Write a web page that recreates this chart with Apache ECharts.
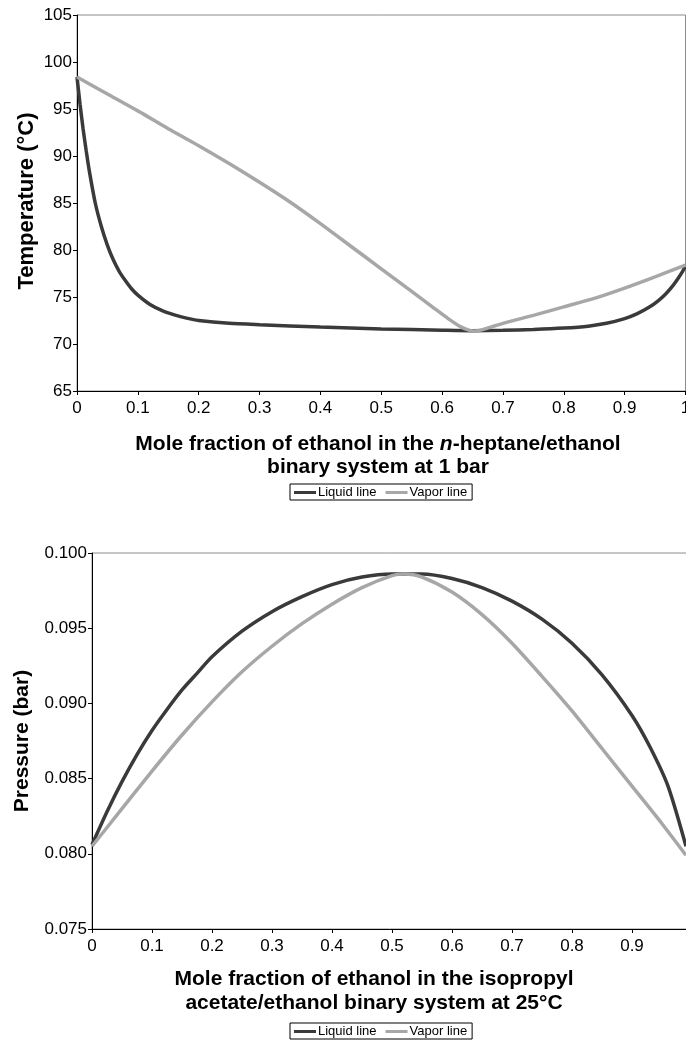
<!DOCTYPE html>
<html>
<head>
<meta charset="utf-8">
<title>Ethanol binary systems – phase diagrams</title>
<script src="https://cdn.jsdelivr.net/npm/echarts@6/dist/echarts.min.js"></script>
<style>
  html, body { margin: 0; padding: 0; background: #fff; overflow: hidden; }
  #chart { width: 686px; height: 1042px; }
</style>
</head>
<body>
<div id="chart"></div>
<script>
// n-heptane/ethanol at 1 bar: [mole fraction ethanol, temperature °C]
const heptaneLiquid = [
  [0, 98.4], [0.005, 95.5], [0.01, 92.9], [0.015, 90.6], [0.02, 88.5], [0.03, 85.0],
  [0.04, 82.5], [0.05, 80.5], [0.06, 78.9], [0.07, 77.65], [0.08, 76.7], [0.09, 75.85],
  [0.1, 75.2], [0.12, 74.2], [0.14, 73.55], [0.16, 73.1], [0.18, 72.75], [0.2, 72.5],
  [0.25, 72.2], [0.3, 72.05], [0.4, 71.8], [0.5, 71.6], [0.6, 71.47], [0.65, 71.42],
  [0.7, 71.45], [0.75, 71.55], [0.8, 71.7], [0.84, 71.9], [0.87, 72.2], [0.9, 72.7],
  [0.92, 73.2], [0.94, 73.9], [0.955, 74.6], [0.967, 75.3], [0.978, 76.1], [0.988, 77.0],
  [0.995, 77.7], [1, 78.3]
];
const heptaneVapor = [
  [0, 98.4], [0.05, 96.6], [0.1, 94.8], [0.15, 92.9], [0.2, 91.1], [0.25, 89.2],
  [0.3, 87.2], [0.35, 85.1], [0.4, 82.8], [0.45, 80.4], [0.5, 78.0], [0.55, 75.6],
  [0.585, 73.9], [0.61, 72.7], [0.63, 71.85], [0.645, 71.45], [0.655, 71.38],
  [0.665, 71.5], [0.68, 71.8], [0.7, 72.2], [0.75, 73.05], [0.8, 73.95], [0.85, 74.85],
  [0.9, 75.95], [0.95, 77.15], [1, 78.4]
];

// isopropyl acetate/ethanol at 25 °C: [mole fraction ethanol, pressure bar]
const acetateLiquid = [
  [0, 0.0806], [0.025, 0.0828], [0.05, 0.0848], [0.075, 0.0866], [0.1, 0.0882],
  [0.125, 0.0896], [0.15, 0.0909], [0.175, 0.0920], [0.2, 0.0931], [0.25, 0.0948],
  [0.3, 0.0961], [0.35, 0.0971], [0.4, 0.0979], [0.45, 0.0984], [0.5, 0.0986],
  [0.55, 0.0986], [0.6, 0.0983], [0.65, 0.0977], [0.7, 0.0968], [0.75, 0.0956],
  [0.8, 0.0940], [0.85, 0.0919], [0.9, 0.0892], [0.93, 0.0871], [0.96, 0.0845],
  [0.99, 0.0805]
];
const acetateVapor = [
  [0, 0.0805], [0.05, 0.0830], [0.1, 0.0855], [0.15, 0.0879], [0.2, 0.0901],
  [0.25, 0.0921], [0.3, 0.0938], [0.35, 0.0953], [0.4, 0.0966], [0.45, 0.0977],
  [0.5, 0.0985], [0.52, 0.0986], [0.55, 0.0984], [0.6, 0.0974], [0.65, 0.0959],
  [0.7, 0.0940], [0.75, 0.0918], [0.8, 0.0895], [0.85, 0.0870], [0.9, 0.0845],
  [0.95, 0.0820], [0.99, 0.0799]
];

// axis ranges and tick steps
const fractionTicks = { min: 0, max: 1, interval: 0.1 };
const temperatureTicks = { min: 65, max: 105, interval: 5 };
const pressureTicks = { min: 0.075, max: 0.100, interval: 0.005 };

const seriesNames = ['Liquid line', 'Vapor line'];
const titles = {
  temperature: 'Temperature (°C)',
  pressure: 'Pressure (bar)',
  heptaneX: ['Mole fraction of ethanol in the {i|n}-heptane/ethanol', 'binary system at 1 bar'],
  acetateX: ['Mole fraction of ethanol in the isopropyl', 'acetate/ethanol binary system at 25°C']
};

const FONT = "'Liberation Sans', Arial, Helvetica, sans-serif";
const TITLE_SIZE = 21;
const DARK = '#3a3a3a';
const LIGHT = '#a7a7a7';

const chart = echarts.init(document.getElementById('chart'), null, { renderer: 'canvas' });

function xAxisFor(gridIndex) {
  return {
    type: 'value', gridIndex,
    min: fractionTicks.min, max: fractionTicks.max, interval: fractionTicks.interval,
    axisLine: { show: true, onZero: false, lineStyle: { color: '#000', width: 1 } },
    axisTick: { show: true, length: 4, lineStyle: { color: '#000' } },
    splitLine: { show: false },
    axisLabel: {
      color: '#000', fontSize: 17, fontFamily: FONT, margin: 9,
      formatter: v => String(Math.round(v * 10) / 10)
    }
  };
}

function yAxisFor(gridIndex, ticks, digits) {
  return {
    type: 'value', gridIndex,
    min: ticks.min, max: ticks.max, interval: ticks.interval,
    axisLine: { show: true, onZero: false, lineStyle: { color: '#000', width: 1 } },
    axisTick: { show: true, length: 4, lineStyle: { color: '#000' } },
    splitLine: { show: false },
    axisLabel: {
      color: '#000', fontSize: 17, fontFamily: FONT, margin: 5,
      formatter: v => v.toFixed(digits)
    }
  };
}

function lineSeries(name, data, color, axisIndex) {
  return {
    name, type: 'line', data,
    xAxisIndex: axisIndex, yAxisIndex: axisIndex,
    showSymbol: false, smooth: 0.25,
    lineStyle: { color, width: 3.5 },
    itemStyle: { color },
    emphasis: { disabled: true },
    animation: false
  };
}

function legendAt(top, left) {
  return {
    top, left,
    data: seriesNames,
    icon: 'rect', itemWidth: 22, itemHeight: 3, itemGap: 9,
    padding: [2, 5, 1, 4],
    borderColor: '#000', borderWidth: 1,
    textStyle: { color: '#000', fontSize: 13, fontFamily: FONT, padding: [0, 0, 0, -3] },
    selectedMode: false
  };
}

function xTitle(lines, cx, y1, y2) {
  const rich = { i: { fontStyle: 'italic', fontWeight: 'bold', fontSize: TITLE_SIZE, fontFamily: FONT, fill: '#000' } };
  return lines.map((t, k) => ({
    type: 'text', x: cx, y: k === 0 ? y1 : y2,
    style: {
      text: t, textAlign: 'center', textVerticalAlign: 'middle',
      fontSize: TITLE_SIZE, fontWeight: 'bold', fontFamily: FONT, fill: '#000', rich
    }
  }));
}

function yTitle(text, cx, cy, size) {
  return {
    type: 'text', x: cx, y: cy, rotation: Math.PI / 2,
    style: {
      text, textAlign: 'center', textVerticalAlign: 'middle',
      fontSize: size, fontWeight: 'bold', fontFamily: FONT, fill: '#000'
    }
  };
}

chart.setOption({
  animation: false,
  backgroundColor: '#fff',
  grid: [
    { left: 77, top: 15, right: 0.5, height: 376, containLabel: false, outerBoundsMode: 'none',
      show: true, borderColor: '#8c8c8c', borderWidth: 1, backgroundColor: 'transparent' },
    { left: 92, top: 553, right: -6, height: 376, containLabel: false, outerBoundsMode: 'none',
      show: true, borderColor: '#8c8c8c', borderWidth: 1, backgroundColor: 'transparent' }
  ],
  xAxis: [xAxisFor(0), xAxisFor(1)],
  yAxis: [yAxisFor(0, temperatureTicks, 0), yAxisFor(1, pressureTicks, 3)],
  legend: [legendAt(484, 290), legendAt(1023, 290)],
  series: [
    lineSeries(seriesNames[0], heptaneLiquid, DARK, 0),
    lineSeries(seriesNames[1], heptaneVapor, LIGHT, 0),
    lineSeries(seriesNames[0], acetateLiquid, DARK, 1),
    lineSeries(seriesNames[1], acetateVapor, LIGHT, 1)
  ],
  graphic: [
    yTitle(titles.temperature, 27, 201, 22),
    yTitle(titles.pressure, 22, 741, 21),
    ...xTitle(titles.heptaneX, 378, 444, 467),
    ...xTitle(titles.acetateX, 374, 979, 1003)
  ]
});
</script>
</body>
</html>
